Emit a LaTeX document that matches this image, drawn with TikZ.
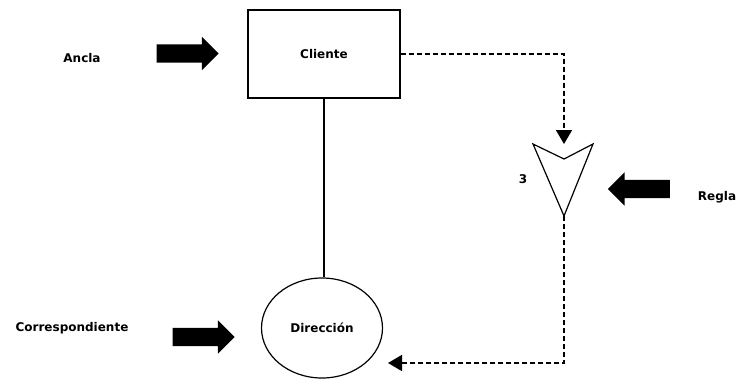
\documentclass[tikz,border=0pt]{standalone}
\usepackage{fontspec}
\setmainfont{DejaVu Sans}
\usetikzlibrary{shapes.arrows,shapes.geometric,arrows.meta}
\begin{document}
\begin{tikzpicture}[x=1pt,y=-1pt,
  lbl/.style={font=\bfseries\fontsize{12}{14}\selectfont},
  fatarrow/.style={single arrow, fill=black, draw=none, inner xsep=0pt,
    inner ysep=9pt, minimum height=62pt, single arrow head extend=7.5pt,
    single arrow head indent=0pt, single arrow tip angle=90},
  flow/.style={line width=1.7pt, dash pattern=on 5pt off 3pt,
    -{Triangle[length=14pt,width=16pt]}},
  plain/.style={line width=1.2pt}]
\useasboundingbox (0,0) rectangle (742,383);

% entities
\node[draw, plain, minimum width=152pt, minimum height=88pt, lbl] (cli) at (324,54) {Cliente};
\node[draw, plain, ellipse, minimum width=121pt, minimum height=100pt, lbl] (dir) at (322,328) {Dirección};
\draw[plain] (cli.south) -- (cli.south |- dir.north);

% rule symbol
\coordinate (tl) at (533,144);
\coordinate (tr) at (593,144);
\coordinate (nt) at (564,159);
\coordinate (bt) at (564,216);
\draw[plain, line join=miter] (tl) -- (nt) -- (tr) -- (bt) -- cycle;
\node[lbl] (n3) at (523,179) {3};

% dashed flows
\coordinate (tin) at (564,144);
\coordinate (dend) at (388,363);
\draw[flow] (cli.east) -| (tin);
\draw[flow] (bt) |- (dend);

% labels with block arrows
\node[lbl] (ancla) at (82,58) {Ancla};
\node[fatarrow] (aA) at (183,53.5) {};
\node[lbl] (corr) at (72,328) {Correspondiente};
\node[fatarrow] (aC) at (199,337) {};
\node[lbl] (regla) at (717,197) {Regla};
\node[fatarrow, shape border rotate=180] (aR) at (643.5,189) {};
\end{tikzpicture}
\end{document}
